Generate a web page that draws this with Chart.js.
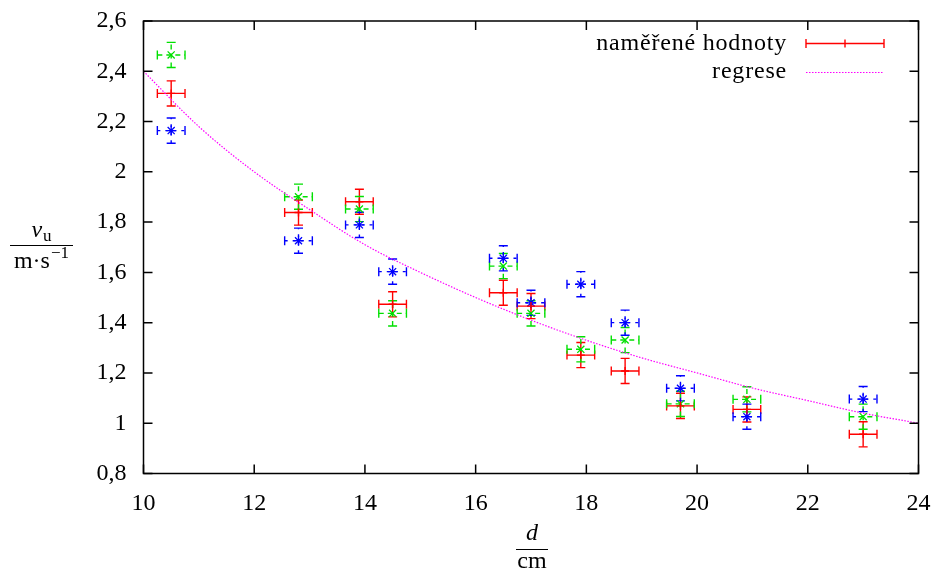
<!DOCTYPE html>
<html>
<head>
<meta charset="utf-8">
<script src="https://cdn.jsdelivr.net/npm/chart.js@4.4.0/dist/chart.umd.min.js"></script>
<style>
  html, body { margin: 0; padding: 0; background: #fff; }
  #wrap { width: 933px; height: 572px; }
</style>
</head>
<body>
<div id="wrap"><canvas id="chart" width="933" height="572"></canvas></div>
<script>
// distance d [cm]
const distances = [10.5, 12.8, 13.9, 14.5, 16.5, 17.0, 17.9, 18.7, 19.7, 20.9, 23.0];
// measured speeds v_u [m/s], three runs
const runRed   = [2.312, 1.838, 1.881, 1.473, 1.519, 1.466, 1.271, 1.208, 1.069, 1.055, 0.956];
const runGreen = [2.465, 1.901, 1.852, 1.437, 1.625, 1.437, 1.294, 1.331, 1.077, 1.095, 1.026];
const runBlue  = [2.164, 1.726, 1.789, 1.603, 1.656, 1.479, 1.553, 1.400, 1.139, 1.026, 1.096];
// error bars (same for all points)
const errD = [0.25, 0.25, 0.25, 0.25, 0.25, 0.25, 0.25, 0.25, 0.25, 0.25, 0.25];
const errV = [0.05, 0.05, 0.05, 0.05, 0.05, 0.05, 0.05, 0.05, 0.05, 0.05, 0.05];
// regression curve
const regD = [10, 11, 12, 13, 14, 15, 16, 17, 18, 19, 20, 21, 22, 23, 24];
const regV = [2.40, 2.18, 2.00, 1.85, 1.71, 1.60, 1.50, 1.41, 1.33, 1.26, 1.20, 1.14, 1.09, 1.04, 1.00];

const xTickLabels = ['10', '12', '14', '16', '18', '20', '22', '24'];
const yTickLabels = ['0,8', '1', '1,2', '1,4', '1,6', '1,8', '2', '2,2', '2,4', '2,6'];

const FONT = '"Liberation Serif", "Times New Roman", serif';
const FS = 24;
const GREEN = '#00e000';

const pts = arr => arr.map((v, i) => ({ x: distances[i], y: v }));

const errSeries = [
  { values: runRed, color: '#ff0000', dash: [] },
  { values: runGreen, color: GREEN, dash: [5, 4] },
  { values: runBlue, color: '#0000ff', dash: [3, 5] }
];

const decor = {
  id: 'decor',
  beforeDatasetsDraw(chart) {
    const ctx = chart.ctx, xs = chart.scales.x, ys = chart.scales.y, a = chart.chartArea;
    ctx.save();
    ctx.beginPath();
    ctx.rect(a.left, a.top, a.right - a.left, a.bottom - a.top);
    ctx.clip();
    errSeries.forEach(s => {
      ctx.strokeStyle = s.color;
      ctx.lineWidth = 1.4;
      s.values.forEach((v, i) => {
        const px = xs.getPixelForValue(distances[i]);
        const py = ys.getPixelForValue(v);
        const x0 = xs.getPixelForValue(distances[i] - errD[i]);
        const x1 = xs.getPixelForValue(distances[i] + errD[i]);
        const y0 = ys.getPixelForValue(v - errV[i]);
        const y1 = ys.getPixelForValue(v + errV[i]);
        ctx.setLineDash(s.dash);
        ctx.beginPath();
        ctx.moveTo(x0, py); ctx.lineTo(x1, py);
        ctx.moveTo(px, y0); ctx.lineTo(px, y1);
        ctx.stroke();
        ctx.setLineDash([]);
        ctx.beginPath();
        ctx.moveTo(x0, py - 4.5); ctx.lineTo(x0, py + 4.5);
        ctx.moveTo(x1, py - 4.5); ctx.lineTo(x1, py + 4.5);
        ctx.moveTo(px - 4.5, y0); ctx.lineTo(px + 4.5, y0);
        ctx.moveTo(px - 4.5, y1); ctx.lineTo(px + 4.5, y1);
        ctx.stroke();
      });
    });
    ctx.restore();
  },
  afterDraw(chart) {
    const ctx = chart.ctx, xs = chart.scales.x, ys = chart.scales.y, a = chart.chartArea;
    ctx.save();
    // frame + inward ticks on all sides
    ctx.strokeStyle = '#000';
    ctx.lineWidth = 1.5;
    ctx.strokeRect(a.left, a.top, a.right - a.left, a.bottom - a.top);
    ctx.beginPath();
    xs.ticks.forEach(t => {
      const p = xs.getPixelForValue(t.value);
      ctx.moveTo(p, a.bottom); ctx.lineTo(p, a.bottom - 9);
      ctx.moveTo(p, a.top); ctx.lineTo(p, a.top + 9);
    });
    ys.ticks.forEach(t => {
      const p = ys.getPixelForValue(t.value);
      ctx.moveTo(a.left, p); ctx.lineTo(a.left + 9, p);
      ctx.moveTo(a.right, p); ctx.lineTo(a.right - 9, p);
    });
    ctx.stroke();

    ctx.fillStyle = '#000';
    ctx.textBaseline = 'alphabetic';
    // y axis title: v_u / m·s^-1
    ctx.font = `italic ${FS}px ${FONT}`;
    const wv = ctx.measureText('v').width;
    ctx.font = `17px ${FONT}`;
    const wu = ctx.measureText('u').width;
    const cy = 41.5;
    let sx = cy - (wv + wu + 1) / 2;
    ctx.font = `italic ${FS}px ${FONT}`;
    ctx.fillText('v', sx, 237);
    ctx.font = `17px ${FONT}`;
    ctx.fillText('u', sx + wv + 1, 241);
    ctx.lineWidth = 1;
    ctx.beginPath();
    ctx.moveTo(10, 245.5); ctx.lineTo(73, 245.5);
    ctx.stroke();
    ctx.font = `${FS}px ${FONT}`;
    const wms = ctx.measureText('m·s').width;
    ctx.font = `17px ${FONT}`;
    const wexp = ctx.measureText('\u22121').width;
    sx = cy - (wms + wexp + 1) / 2;
    ctx.font = `${FS}px ${FONT}`;
    ctx.fillText('m·s', sx, 268);
    ctx.font = `17px ${FONT}`;
    ctx.fillText('\u22121', sx + wms + 1, 258);

    // x axis title: d / cm
    const cx = (a.left + a.right) / 2 + 1;
    ctx.textAlign = 'center';
    ctx.font = `italic ${FS}px ${FONT}`;
    ctx.fillText('d', cx, 540);
    ctx.beginPath();
    ctx.moveTo(cx - 16, 549.5); ctx.lineTo(cx + 16, 549.5);
    ctx.stroke();
    ctx.font = `${FS}px ${FONT}`;
    ctx.fillText('cm', cx, 568);

    // legend
    ctx.textAlign = 'right';
    ctx.textBaseline = 'middle';
    ctx.letterSpacing = '0.8px';
    ctx.fillText('naměřené hodnoty', 787, 44);
    ctx.fillText('regrese', 787, 72);
    ctx.letterSpacing = '0px';
    ctx.strokeStyle = '#ff0000';
    ctx.lineWidth = 1.4;
    ctx.beginPath();
    ctx.moveTo(806, 43.5); ctx.lineTo(884, 43.5);
    ctx.moveTo(806, 39); ctx.lineTo(806, 48);
    ctx.moveTo(884, 39); ctx.lineTo(884, 48);
    ctx.moveTo(845, 39.5); ctx.lineTo(845, 47.5);
    ctx.stroke();
    ctx.strokeStyle = '#ff00ff';
    ctx.lineWidth = 1.2;
    ctx.setLineDash([1.5, 1.5]);
    ctx.beginPath();
    ctx.moveTo(806, 72.5); ctx.lineTo(884, 72.5);
    ctx.stroke();
    ctx.restore();
  }
};

new Chart(document.getElementById('chart'), {
  type: 'scatter',
  data: {
    datasets: [
      { label: 'naměřené hodnoty', data: pts(runRed), pointStyle: 'cross', pointRadius: 4,
        borderColor: '#ff0000', borderWidth: 1.4, backgroundColor: '#ff0000' },
      { label: 'run 2', data: pts(runGreen), pointStyle: 'crossRot', pointRadius: 5,
        borderColor: GREEN, borderWidth: 1.3, backgroundColor: GREEN },
      { label: 'run 3', data: pts(runBlue), pointStyle: 'star', pointRadius: 5,
        borderColor: '#0000ff', borderWidth: 1.3, backgroundColor: '#0000ff' },
      { label: 'regrese', type: 'line', data: regD.map((d, i) => ({ x: d, y: regV[i] })),
        showLine: true, pointRadius: 0, borderColor: '#ff00ff', borderWidth: 1.2,
        borderDash: [1.5, 1.5], cubicInterpolationMode: 'monotone', fill: false }
    ]
  },
  options: {
    responsive: false,
    animation: false,
    layout: { padding: { top: 21, right: 14.5, left: 0, bottom: 0 } },
    plugins: { legend: { display: false }, tooltip: { enabled: false } },
    scales: {
      x: {
        type: 'linear', min: 10, max: 24,
        afterFit: s => { s.height = 98.5; s.paddingLeft = 0; s.paddingRight = 0; },
        grid: { display: false, drawTicks: false },
        border: { display: false },
        ticks: {
          stepSize: 2, padding: 16, maxRotation: 0, color: '#000',
          font: { family: FONT, size: FS },
          callback: (v, i) => xTickLabels[i]
        }
      },
      y: {
        type: 'linear', min: 0.8, max: 2.6,
        afterFit: s => { s.width = 143.5; s.paddingTop = 0; s.paddingBottom = 0; },
        grid: { display: false, drawTicks: false },
        border: { display: false },
        ticks: {
          stepSize: 0.2, padding: 17, color: '#000',
          font: { family: FONT, size: FS },
          callback: (v, i) => yTickLabels[i]
        }
      }
    }
  },
  plugins: [decor]
});
</script>
</body>
</html>
